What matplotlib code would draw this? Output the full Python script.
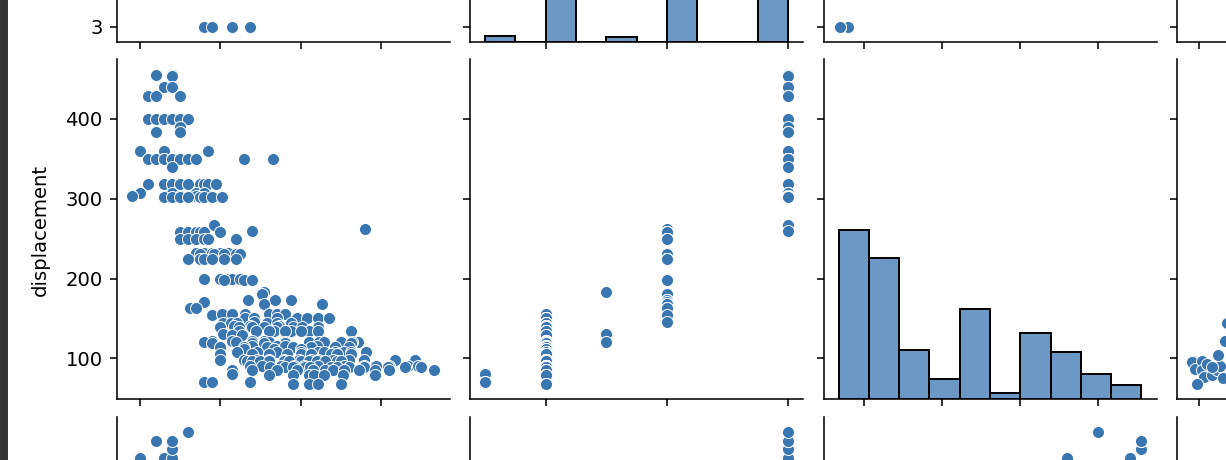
#!/usr/bin/env python3
"""
Cropped view of a pairplot (mpg data): cylinders / displacement / horsepower rows
against mpg / cylinders / displacement / horsepower columns.

Values were read off the reference picture, so they are estimates.
"""
import matplotlib

matplotlib.use("Agg")
import matplotlib.pyplot as plt
import numpy as np
from matplotlib.colors import to_rgba
from matplotlib.patches import Rectangle

W, H = 1226, 460
DPI = 141
BLUE = "#3a76b0"

# ── data ───────────────────────────────────────────────────────────────────
# one line per displacement row, the three lists line up element by element
mpg = [
    12, 14, 14,
    14,
    13, 14,
    11, 12, 15,
    11, 12, 13, 13, 14, 15, 16,
    15,
    12, 15,
    10, 13, 18.5,
    11, 12, 13, 13, 14, 14, 15, 15, 16, 17, 23, 26.6,
    14,
    11, 13, 13, 14, 14, 15, 15, 16, 17.5, 18, 18.5, 19.5,
    10, 14, 17, 18,
    9, 15, 17,
    13, 14, 15, 16, 17.5, 18, 19, 20.2,
    19.2,
    23.9,
    38,
    15, 16, 17, 17.5, 18, 20,
    15, 16, 17, 18, 18.5, 22,
    17, 18, 19, 20, 21,
    17.5, 19.2, 20.5, 22, 22.5,
    16, 17.5, 18, 19, 20.5, 22,
    18, 20.2, 21, 22,
    20, 21.5, 22.5,
    20.5, 23, 24,
    25.4,
    25.2,
    23.5, 26.8, 28.8,
    18,
    25.4, 32.7,
    16.2, 17,
    19,
    20.2, 21.5, 23.1, 26, 27.1, 28.1,
    23.1, 24.2, 27.1, 29.6, 30.8, 32.1, 33.5,
    24.2,
    20.4, 21.3, 22.1, 25.8, 27.1, 28.8,
    21.7, 23.7, 27.3,
    20, 22.3, 24, 25.4, 27.1, 29, 30.2, 32.1,
    22.3, 24.4, 26.7, 28.8, 31, 32.1, 36.2,
    26, 28, 30,
    20.3,
    21.5, 22.7,
    19, 21.5, 24, 25.4,
    18, 22, 26, 28.1, 31, 32.3, 32.9, 35, 37.1,
    36.4,
    19, 24, 25.4, 28, 36.3,
    24, 27, 28, 32,
    20, 22.9, 25.8, 29, 31.3, 34.2, 36,
    22.9, 26.7, 30,
    22.1, 24.6, 27.1, 30, 32.1, 32.9, 34.2, 35.4, 36.3, 38.1,
    20, 24, 26, 28.3, 30, 31.3, 33.8, 34.5, 36.3,
    20, 22.9, 24.6, 26, 27.9, 29.8, 31.3, 32.1, 34, 36, 37.9, 41.7, 44.2,
    23.3, 24, 25, 26, 27.9, 28.5, 30, 31, 32, 33, 34.5, 35,
    23.7, 25.2, 27.5, 29.2, 30.4, 32.1, 35.4, 37.9, 39.4, 41, 43.3, 44.6,
    26.2, 28, 29, 30.5, 31.2, 33.7, 34.5, 36, 37.9, 40.8, 42.9, 45,
    46.6,
    21.5, 24, 27, 29.6, 31.5, 33, 34, 35.4, 37.3, 39.2, 41,
    21.5,
    26, 29, 31, 31.7, 32.9, 35.2, 39.2,
    18, 19, 23.7,
    29, 31, 32.1, 35,
]
displacement = [
    455, 455, 455,
    454,
    440, 440,
    429, 429, 429,
    400, 400, 400, 400, 400, 400, 400,
    390,
    383, 383,
    360, 360, 360,
    350, 350, 350, 350, 350, 350, 350, 350, 350, 350, 350, 350,
    340,
    318, 318, 318, 318, 318, 318, 318, 318, 318, 318, 318, 318,
    307, 307, 307, 307,
    304, 304, 304,
    302, 302, 302, 302, 302, 302, 302, 302,
    267,
    260,
    262,
    258, 258, 258, 258, 258, 258,
    250, 250, 250, 250, 250, 250,
    232, 232, 232, 232, 232,
    231, 231, 231, 231, 231,
    225, 225, 225, 225, 225, 225,
    200, 200, 200, 200,
    199, 199, 199,
    198, 198, 198,
    183,
    181,
    173, 173, 173,
    171,
    168, 168,
    163, 163,
    155,
    156, 156, 156, 156, 156, 156,
    151, 151, 151, 151, 151, 151, 151,
    146,
    144, 144, 144, 144, 144, 144,
    141, 141, 141,
    140, 140, 140, 140, 140, 140, 140, 140,
    134, 134, 134, 134, 134, 134, 134,
    135, 135, 135,
    131,
    130, 130,
    122, 122, 122, 122,
    121, 121, 121, 121, 121, 121, 121, 121, 121,
    121,
    120, 120, 120, 120, 120,
    116, 116, 116, 116,
    114, 114, 114, 114, 114, 114, 114,
    112, 112, 112,
    108, 108, 108, 108, 108, 108, 108, 108, 108, 108,
    105, 105, 105, 105, 105, 105, 105, 105, 105,
    98, 98, 98, 98, 98, 98, 98, 98, 98, 98, 98, 98, 98,
    97, 97, 97, 97, 97, 97, 97, 97, 97, 97, 97, 97,
    91, 91, 91, 91, 91, 91, 91, 91, 91, 91, 91, 91,
    89, 89, 89, 89, 89, 89, 89, 89, 89, 89, 89, 89,
    86,
    85, 85, 85, 85, 85, 85, 85, 85, 85, 85, 85,
    80,
    79, 79, 79, 79, 79, 79, 79,
    70, 70, 70,
    68, 68, 68, 68,
]
cylinders = [
    8, 8, 8,
    8,
    8, 8,
    8, 8, 8,
    8, 8, 8, 8, 8, 8, 8,
    8,
    8, 8,
    8, 8, 8,
    8, 8, 8, 8, 8, 8, 8, 8, 8, 8, 8, 8,
    8,
    8, 8, 8, 8, 8, 8, 8, 8, 8, 8, 8, 8,
    8, 8, 8, 8,
    8, 8, 8,
    8, 8, 8, 8, 8, 8, 8, 8,
    8,
    8,
    6,
    6, 6, 6, 6, 6, 6,
    6, 6, 6, 6, 6, 6,
    6, 6, 6, 6, 6,
    6, 6, 6, 6, 6,
    6, 6, 6, 6, 6, 6,
    6, 6, 6, 6,
    6, 6, 6,
    6, 6, 6,
    5,
    6,
    6, 6, 6,
    6,
    6, 6,
    6, 6,
    6,
    4, 4, 4, 4, 4, 4,
    4, 4, 4, 4, 4, 4, 4,
    6,
    4, 4, 4, 4, 4, 4,
    4, 4, 4,
    4, 4, 4, 4, 4, 4, 4, 4,
    4, 4, 4, 4, 4, 4, 4,
    4, 4, 4,
    5,
    4, 4,
    4, 4, 4, 4,
    4, 4, 4, 4, 4, 4, 4, 4, 4,
    5,
    4, 4, 4, 4, 4,
    4, 4, 4, 4,
    4, 4, 4, 4, 4, 4, 4,
    4, 4, 4,
    4, 4, 4, 4, 4, 4, 4, 4, 4, 4,
    4, 4, 4, 4, 4, 4, 4, 4, 4,
    4, 4, 4, 4, 4, 4, 4, 4, 4, 4, 4, 4, 4,
    4, 4, 4, 4, 4, 4, 4, 4, 4, 4, 4, 4,
    4, 4, 4, 4, 4, 4, 4, 4, 4, 4, 4, 4,
    4, 4, 4, 4, 4, 4, 4, 4, 4, 4, 4, 4,
    4,
    4, 4, 4, 4, 4, 4, 4, 4, 4, 4, 4,
    3,
    4, 4, 4, 4, 4, 4, 4,
    3, 3, 3,
    4, 4, 4, 4,
]

# only the low-horsepower end shows in the horsepower column
hp_low = [46, 46, 48, 52, 52, 53, 49, 58, 61, 63, 62, 66, 67, 65, 55, 58]
hp_low_disp = [97, 96, 87, 97, 85, 77, 68, 79, 85, 91, 104, 122, 145, 75, 93, 89]

# only the high-horsepower end shows in the horsepower row
hp_high = [215, 215, 215, 220, 225, 225, 230]
hp_high_mpg = [10, 13, 14, 14, 12, 14, 16]
hp_high_cyl = [8, 8, 8, 8, 8, 8, 8]
hp_high_disp = [360, 440, 440, 454, 455, 455, 400]

# diagonal histograms (10 bins between min and max)
cyl_counts = [4, 0, 204, 0, 3, 0, 84, 0, 0, 103]
disp_counts = [107, 89, 31, 13, 57, 4, 42, 30, 16, 9]

assert len(mpg) == len(displacement) == len(cylinders)


def padded(values):
    lo, hi = min(values), max(values)
    pad = (hi - lo) * 0.05
    return lo - pad, hi + pad


def px_axes(fig, left, top, width, height):
    """Axes placed in pixel coordinates measured from the top-left corner."""
    return fig.add_axes([left / W, 1 - (top + height) / H, width / W, height / H])


def scatter(ax, x, y):
    ax.scatter(x, y, s=38, color=BLUE, edgecolor="white", linewidth=0.5)


def diag_hist(ax, values, counts, top):
    edges = np.linspace(min(values), max(values), len(counts) + 1)
    twin = ax.twinx()
    twin.bar(
        edges[:-1],
        counts,
        width=np.diff(edges),
        align="edge",
        facecolor=to_rgba(BLUE, 0.75),
        edgecolor="black",
        linewidth=1.0,
    )
    twin.set_ylim(0, top)
    twin.set_axis_off()


def hide_offcanvas_text(fig, axes_list) -> None:
    """Texts that fall outside the cropped canvas are not drawn."""
    fig.canvas.draw()
    renderer = fig.canvas.get_renderer()
    for ax in axes_list:
        texts = ax.get_xticklabels() + ax.get_yticklabels()
        texts += [ax.xaxis.label, ax.yaxis.label]
        for t in texts:
            if not t.get_visible() or not t.get_text():
                continue
            bb = t.get_window_extent(renderer)
            if bb.x0 < 0 or bb.y0 < 0 or bb.x1 > W or bb.y1 > H:
                t.set_visible(False)


def main() -> None:
    fig = plt.figure(figsize=(W / DPI + 1e-6, H / DPI + 1e-6), dpi=DPI)

    col_left = [116.5, 470, 823.5, 1177]
    row_top = [-298, 59.5, 417]
    ax_w, ax_h = 333, 340

    hp_all = hp_low + hp_high
    lims = {
        "mpg": padded(mpg),
        "cylinders": padded(cylinders),
        "displacement": padded(displacement),
        "horsepower": padded(hp_all),
    }
    row_vars = ["cylinders", "displacement", "horsepower"]
    col_vars = ["mpg", "cylinders", "displacement", "horsepower"]

    axes = [[px_axes(fig, l, t, ax_w, ax_h) for l in col_left] for t in row_top]

    hist_top = max(max(cyl_counts), max(disp_counts)) * 1.05

    # row 0: cylinders
    scatter(axes[0][0], mpg, cylinders)
    diag_hist(axes[0][1], cylinders, cyl_counts, hist_top)
    scatter(axes[0][2], displacement, cylinders)

    # row 1: displacement
    scatter(axes[1][0], mpg, displacement)
    scatter(axes[1][1], cylinders, displacement)
    diag_hist(axes[1][2], displacement, disp_counts, hist_top)
    scatter(axes[1][3], hp_low, hp_low_disp)

    # row 2: horsepower
    scatter(axes[2][0], hp_high_mpg, hp_high)
    scatter(axes[2][1], hp_high_cyl, hp_high)
    scatter(axes[2][2], hp_high_disp, hp_high)

    for r, rv in enumerate(row_vars):
        for c, cv in enumerate(col_vars):
            ax = axes[r][c]
            ax.set_xlim(*lims[cv])
            ax.set_ylim(*lims[rv])
            ax.spines["top"].set_visible(False)
            ax.spines["right"].set_visible(False)
            ax.tick_params(labelleft=(c == 0), labelbottom=(r == len(row_vars) - 1))
            if c == 0:
                ax.set_ylabel(rv, labelpad=8)
            if r == len(row_vars) - 1:
                ax.set_xlabel(cv)

    hide_offcanvas_text(fig, [ax for row in axes for ax in row])

    # dark edge of the screenshot on the left
    fig.add_artist(
        Rectangle((0, 0), 7 / W, 1, transform=fig.transFigure, color="#333333", zorder=10)
    )

    fig.savefig("out.png", dpi=DPI)
    plt.close(fig)


if __name__ == "__main__":
    main()
